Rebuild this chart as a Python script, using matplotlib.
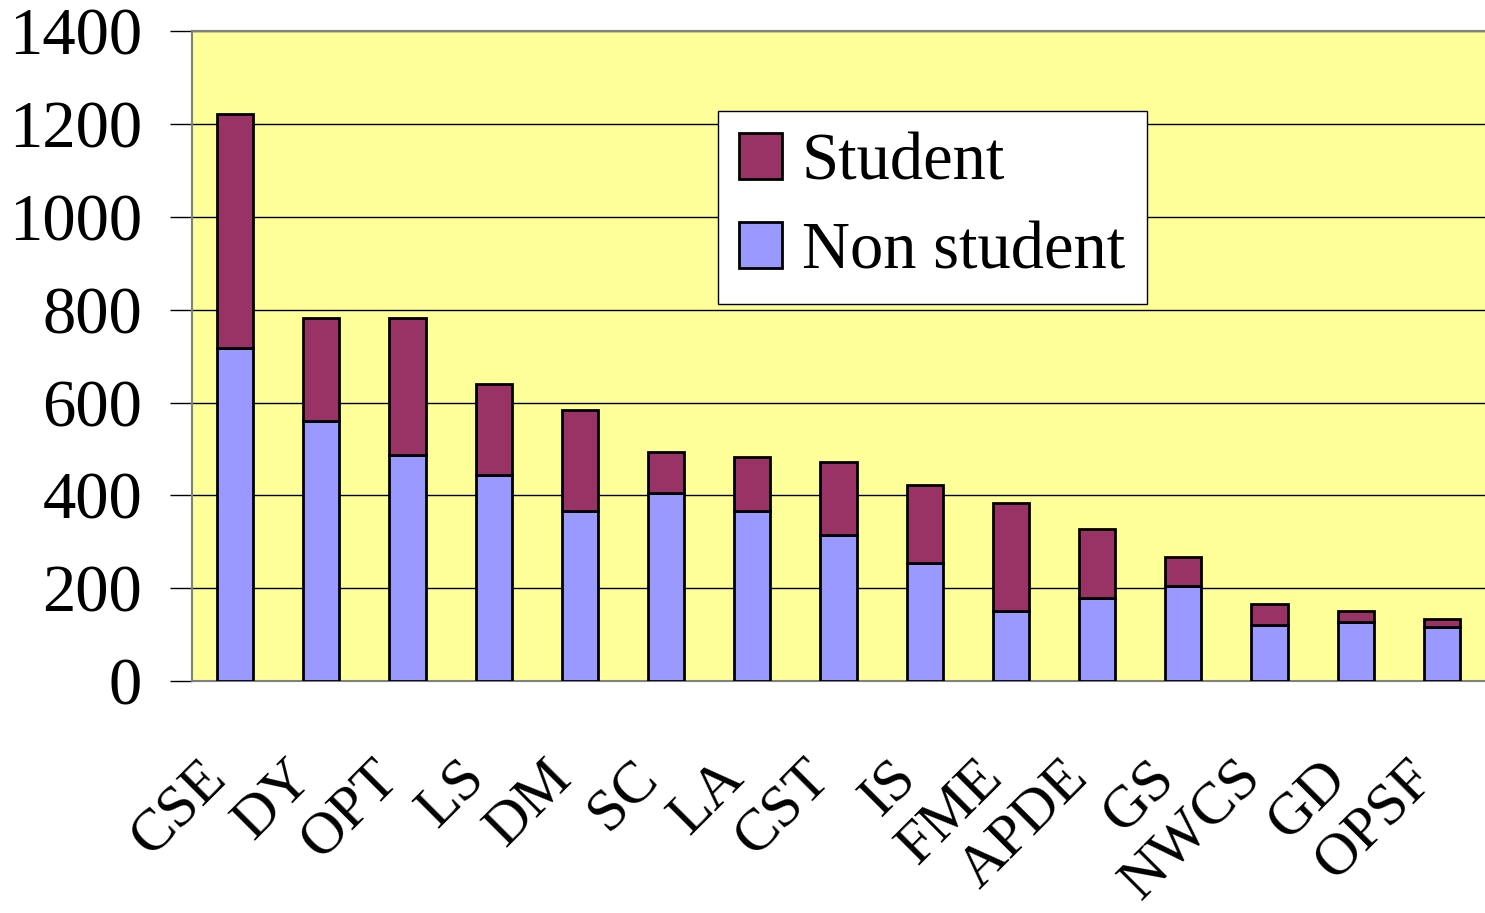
import numpy as np
import matplotlib.pyplot as plt
import matplotlib.transforms as mtransforms

# groups along the x axis
groups = ["CSE", "DY", "OPT", "LS", "DM", "SC", "LA", "CST", "IS", "FME",
          "APDE", "GS", "NWCS", "GD", "OPSF"]

# values
non_student = [717, 560, 487, 444, 366, 405, 366, 314, 254, 151, 179, 205, 121, 127, 116]
total = [1221, 782, 782, 640, 584, 493, 482, 472, 422, 383, 327, 267, 166, 151, 134]
student = [t - n for t, n in zip(total, non_student)]

yticks = [0, 200, 400, 600, 800, 1000, 1200, 1400]

plt.rcParams['font.family'] = ['Liberation Serif', 'DejaVu Serif']

fig = plt.figure(figsize=(14.85, 9.13), dpi=100)
ax = fig.add_axes([0.1293, 0.254, 0.8707, 0.712])
ax.set_facecolor("#FFFF99")

x = np.arange(len(groups))
w = 0.42
ax.bar(x, non_student, w, color="#9999FF", edgecolor="black", linewidth=2,
       label="Non student", zorder=3)
ax.bar(x, student, w, bottom=non_student, color="#993366", edgecolor="black",
       linewidth=2, label="Student", zorder=3)

ax.set_xlim(-0.5, len(groups) - 0.5)
ax.set_ylim(0, 1400)
ax.set_yticks(yticks)
ax.set_yticklabels([str(v) for v in yticks], fontsize=48)
ax.yaxis.grid(True, color="black", linewidth=1)
ax.set_axisbelow(True)
ax.tick_params(axis="y", length=16, width=1, pad=20, color="black")

ax.set_xticks(x)
ax.set_xticklabels(groups, fontsize=43, rotation=45, ha="right", va="top",
                   rotation_mode="anchor")
ax.tick_params(axis="x", length=0, pad=50)
# nudge labels left, like the original
shift = mtransforms.ScaledTranslation(-36 / 100, 0, fig.dpi_scale_trans)
for lab in ax.get_xticklabels():
    lab.set_transform(lab.get_transform() + shift)

for side in ["left", "bottom", "top"]:
    ax.spines[side].set_color("#808080")
    ax.spines[side].set_linewidth(1.5)
ax.spines["right"].set_visible(False)

handles, labels = ax.get_legend_handles_labels()
leg = ax.legend(handles[::-1], labels[::-1], loc="upper left",
                bbox_to_anchor=(0.4068, 0.877), fontsize=48, frameon=True,
                fancybox=False, edgecolor="black", framealpha=1,
                handlelength=0.64, handleheight=0.7, handletextpad=0.3,
                labelspacing=0.42, borderpad=0.32, borderaxespad=0)
leg.get_frame().set_linewidth(1)

fig.savefig("out.png", dpi=100)
